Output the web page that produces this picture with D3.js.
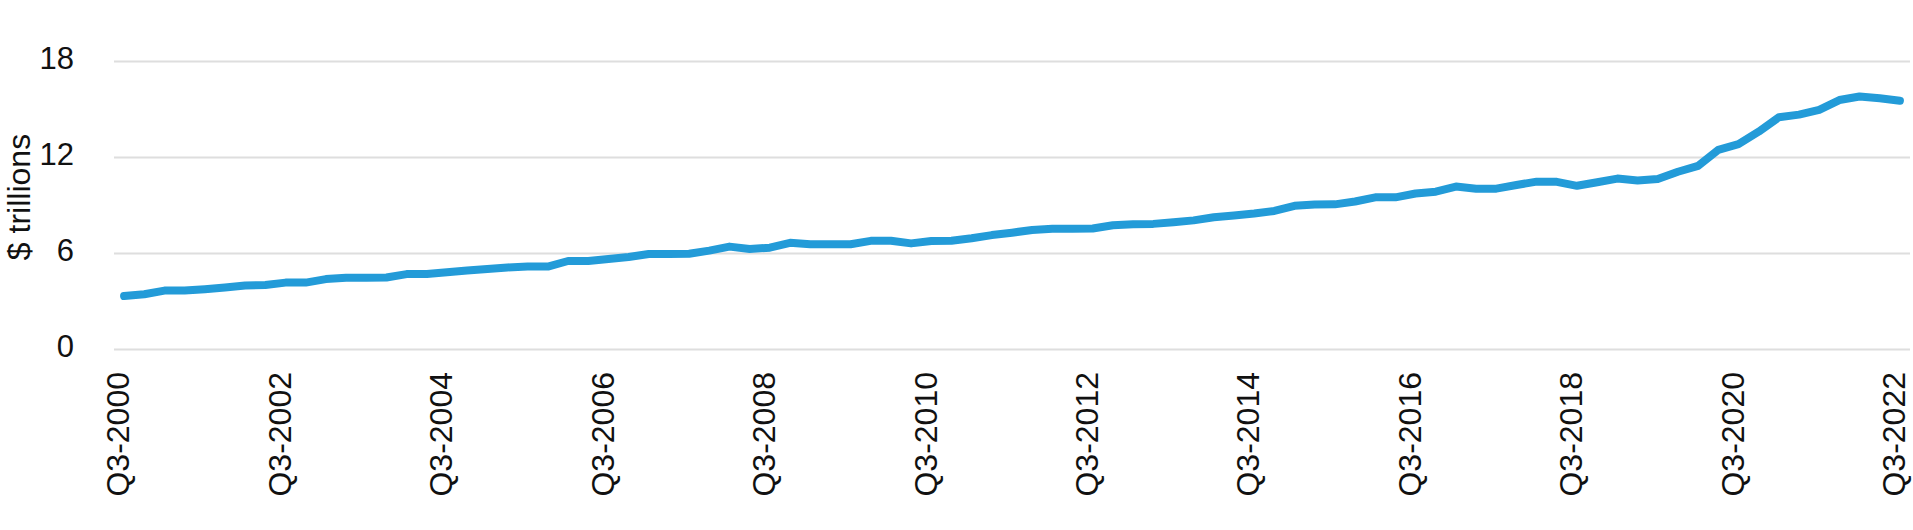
<!DOCTYPE html>
<html>
<head>
<meta charset="utf-8">
<script src="https://cdn.jsdelivr.net/npm/d3@7"></script>
<style>
  body { margin: 0; background: #fff; }
  text { font-family: "Liberation Sans", Arial, sans-serif; fill: #111; }
</style>
</head>
<body>
<div class="chart"></div>
<script>
// quarterly values, $ trillions, Q3-2000 .. Q3-2022
const values = [
  3.31, 3.42, 3.65, 3.65, 3.74, 3.85, 3.97, 4.00, 4.15, 4.15,
  4.37, 4.46, 4.46, 4.47, 4.68, 4.69, 4.80, 4.90, 5.00, 5.10,
  5.15, 5.15, 5.50, 5.50, 5.62, 5.75, 5.94, 5.94, 5.95, 6.15,
  6.40, 6.25, 6.33, 6.64, 6.54, 6.54, 6.55, 6.76, 6.77, 6.60,
  6.75, 6.77, 6.92, 7.12, 7.27, 7.44, 7.52, 7.52, 7.53, 7.73,
  7.80, 7.82, 7.92, 8.04, 8.23, 8.35, 8.47, 8.63, 8.95, 9.03,
  9.04, 9.22, 9.48, 9.48, 9.72, 9.83, 10.15, 10.02, 10.02, 10.25,
  10.46, 10.45, 10.20, 10.42, 10.65, 10.53, 10.63, 11.08, 11.45, 12.45,
  12.80, 13.58, 14.48, 14.65, 14.95, 15.56, 15.78, 15.67, 15.52
];

const xTickLabels = [
  "Q3-2000", "Q3-2002", "Q3-2004", "Q3-2006", "Q3-2008", "Q3-2010",
  "Q3-2012", "Q3-2014", "Q3-2016", "Q3-2018", "Q3-2020", "Q3-2022"
];
const yTicks = [0, 6, 12, 18];

// quarter labels for every point
const quarters = [];
for (let i = 0; i < values.length; i++) {
  const q = ((2 + i) % 4) + 1;
  const yr = 2000 + Math.floor((2 + i) / 4);
  quarters.push(`Q${q}-${yr}`);
}
const data = quarters.map((q, i) => ({ q, v: values[i] }));

const W = 1913, H = 530;
const margin = { top: 61, right: 3, bottom: 181, left: 114 };

const svg = d3.select(".chart")
  .append("svg")
  .attr("width", W)
  .attr("height", H);

const xScale = d3.scalePoint()
  .domain(quarters)
  .range([margin.left, W - margin.right])
  .padding(0.5);

const yScale = d3.scaleLinear()
  .domain([0, 18])
  .range([H - margin.bottom, margin.top]);

// y axis + gridlines
const yAxis = d3.axisLeft(yScale)
  .tickValues(yTicks)
  .tickSize(-(W - margin.right - margin.left))
  .tickPadding(40);

const gy = svg.append("g")
  .attr("class", "axis y-axis")
  .attr("transform", `translate(${margin.left},0)`)
  .call(yAxis);
gy.select(".domain").remove();
gy.selectAll(".tick line").attr("stroke", "#dedede").attr("stroke-width", 2);
gy.selectAll(".tick text")
  .attr("font-size", 31)
  .attr("dy", "0.25em");

// x axis
const xAxis = d3.axisBottom(xScale)
  .tickValues(xTickLabels)
  .tickSize(0);

const gx = svg.append("g")
  .attr("class", "axis x-axis")
  .attr("transform", `translate(0,${H - margin.bottom})`)
  .call(xAxis);
gx.select(".domain").remove();
gx.selectAll(".tick text")
  .attr("font-size", 32)
  .attr("text-anchor", "end")
  .attr("transform", "rotate(-90)")
  .attr("x", -23)
  .attr("y", 0)
  .attr("dy", "0.15em");

// axis title
svg.append("text")
  .attr("transform", "translate(30,197) rotate(-90)")
  .attr("text-anchor", "middle")
  .attr("font-size", 32)
  .text("$ trillions");

// the line
const line = d3.line()
  .x(d => xScale(d.q))
  .y(d => yScale(d.v));

svg.append("path")
  .datum(data)
  .attr("fill", "none")
  .attr("stroke", "#239bd8")
  .attr("stroke-width", 8)
  .attr("stroke-linejoin", "round")
  .attr("stroke-linecap", "round")
  .attr("d", line);
</script>
</body>
</html>
